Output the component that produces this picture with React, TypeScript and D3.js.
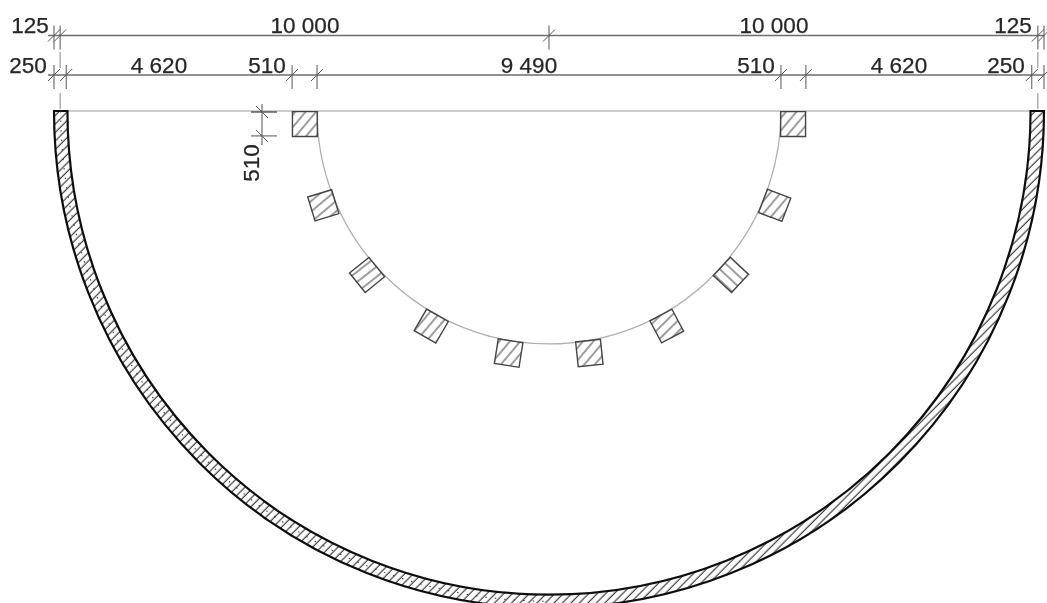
import React from "react";
import * as d3 from "d3";

// Dimension chains (millimetres)
const topChain = [125, 10000, 10000, 125];
const midChain = [250, 4620, 510, 9490, 510, 4620, 250];
const dimLabel = (v: number) => d3.format(",")(v).replace(",", " ");

// Columns: polar position, edge rotation, hatch direction (degrees)
const columnAngle = [3.05, 22.6, 41.9, 61.2, 80.5, 99.5, 118.8, 138.1, 157.4, 176.95];
const columnTilt = [0, -17, -39, -60, -81, 84, 62, 43, 21, 0];
const columnHatch = [-50, -40, -38, -50, -50, -50, -45, 43, -50, -50];
const columnSize = 510;
const columnRing = 4745; // inner radius of column ring
const wallOuter = 10125;
const wallThickness = 275;
const labelColor = "#262626";

const W = 1047, H = 603;
const x = d3.scaleLinear().domain([-wallOuter, wallOuter]).range([54, 1044]);
const k = (v: number) => x(v) - x(0);
const cx = x(0), cy = 111;
const yStretch = 1.004;

const cum = (arr: number[]) => {
  const out = [-wallOuter];
  arr.forEach((v) => out.push(out[out.length - 1] + v));
  return out;
};

const topTicks = cum(topChain);
const midTicks = cum(midChain);

const arc = d3.arc();
const half = { startAngle: Math.PI / 2, endAngle: (3 * Math.PI) / 2 };
const wallPath = arc({ innerRadius: k(wallOuter - wallThickness), outerRadius: k(wallOuter), ...half })!;
const ringPath = d3.path();
ringPath.arc(0, 0, k(columnRing), Math.PI, 0, true);
const midWallPath = d3.path();
midWallPath.arc(0, 0, k(wallOuter - wallThickness / 2), Math.PI, Math.PI / 2, true);

const polygon = d3.line<[number, number]>().curve(d3.curveLinearClosed);

const topLabelX = [30, 305, 774, 1013];
const midLabelX = [28, 159, 267, 529, 756, 899, 1006];

function columnCorners(i: number): [number, number][] {
  const s = k(columnSize);
  const r = k(columnRing) + s / 2;
  const rad = (columnAngle[i] * Math.PI) / 180;
  const px = cx - r * Math.cos(rad);
  const py = cy + r * Math.sin(rad) * yStretch;
  const t = (columnTilt[i] * Math.PI) / 180;
  const c = Math.cos(t), n = Math.sin(t);
  const h = s / 2;
  return ([[-h, -h], [h, -h], [h, h], [-h, h]] as [number, number][]).map(([a, b]) => [
    px + a * c - b * n,
    py + a * n + b * c,
  ]);
}

function DimTick({ px, y, up, down }: { px: number; y: number; up: number; down: number }) {
  return (
    <g stroke="#555" strokeWidth={1}>
      <line x1={px} x2={px} y1={y - up} y2={y + down} />
      <line x1={px - 6} x2={px + 6} y1={y + 6} y2={y - 6} />
    </g>
  );
}

export default function App() {
  const s = k(columnSize);
  return (
    <svg
      width={W}
      height={H}
      viewBox={`0 0 ${W} ${H}`}
      style={{ position: "absolute", left: 0, top: 0, display: "block", background: "#fff" }}
    >
      <defs>
        <filter id="soft" x="-2%" y="-2%" width="104%" height="104%">
          <feGaussianBlur stdDeviation="0.5" />
        </filter>
        {columnHatch.map((h, i) => (
          <pattern key={i} id={`colHatch${i}`} width="8" height="8" patternUnits="userSpaceOnUse" patternTransform={`rotate(${h})`}>
            <line x1="0" x2="8" y1="2" y2="2" stroke="#555" strokeWidth="1.15" />
          </pattern>
        ))}
        <pattern id="wallHatch" width="6" height="6" patternUnits="userSpaceOnUse" patternTransform="rotate(-45)">
          <line x1="0" x2="6" y1="2" y2="2" stroke="#444" strokeWidth="1.25" />
        </pattern>
      </defs>
      <g filter="url(#soft)">
        {/* axis line and ring */}
        <line x1={x(-wallOuter + wallThickness)} x2={x(wallOuter - wallThickness)} y1={cy} y2={cy} stroke="#bdbdbd" strokeWidth={1.4} />
        <g transform={`translate(${cx},${cy}) scale(1,${yStretch})`}>
          <path d={ringPath.toString()} fill="none" stroke="#b0b0b0" strokeWidth={1.3} />
        </g>

        {/* wall */}
        <g transform={`translate(${cx},${cy}) scale(1,${yStretch})`}>
          <path d={wallPath} fill="url(#wallHatch)" stroke="#0c0c0c" strokeWidth={2.2} />
          <path d={midWallPath.toString()} fill="none" stroke="#333" strokeWidth={1} strokeDasharray="1.5 8" />
        </g>

        {/* columns */}
        {columnAngle.map((_, i) => (
          <path
            key={i}
            d={polygon(columnCorners(i))!}
            fill={`url(#colHatch${i})`}
            stroke="#444"
            strokeWidth={1.4}
          />
        ))}

        {/* top dimension chain */}
        <line x1={x(-wallOuter) - 6} x2={x(wallOuter)} y1={35.5} y2={35.5} stroke="#6e6e6e" strokeWidth={1.5} />
        {topTicks.map((t, i) => (
          <DimTick key={i} px={x(t)} y={35.5} up={10} down={14} />
        ))}

        {/* second dimension chain */}
        <line x1={x(-wallOuter) - 6} x2={x(wallOuter)} y1={75} y2={75} stroke="#6e6e6e" strokeWidth={1.5} />
        {midTicks.map((t, i) => (
          <DimTick key={i} px={x(t)} y={75} up={10} down={14} />
        ))}

        {/* extension lines on the wall axis */}
        {[topTicks[1], topTicks[3]].map((t, i) => (
          <g key={i} stroke="#888" strokeWidth={1}>
            <line x1={x(t)} x2={x(t)} y1={52} y2={68} />
            <line x1={x(t)} x2={x(t)} y1={93} y2={109} />
          </g>
        ))}

        {/* vertical column dimension */}
        <g stroke="#555" strokeWidth={1}>
          <line x1={262} x2={262} y1={104} y2={145} />
          <line x1={251} x2={277} y1={cy + 1} y2={cy + 1} stroke="#444" strokeWidth={1.3} />
          <line x1={251} x2={277} y1={cy + s} y2={cy + s} />
          <line x1={256} x2={268} y1={cy - 5} y2={cy + 7} />
          <line x1={256} x2={268} y1={cy + s - 6} y2={cy + s + 6} />
        </g>

        {/* labels */}
        <g fontFamily="'Liberation Sans', Arial, sans-serif" fontSize={22.5} fill={labelColor} stroke={labelColor} strokeWidth={0.25} textAnchor="middle">
          {topChain.map((v, i) => (
            <text key={i} x={topLabelX[i]} y={33}>{dimLabel(v)}</text>
          ))}
          {midChain.map((v, i) => (
            <text key={i} x={midLabelX[i]} y={72.5}>{dimLabel(v)}</text>
          ))}
          <text transform={`translate(259,163) rotate(-90)`}>{dimLabel(columnSize)}</text>
        </g>
      </g>
    </svg>
  );
}
